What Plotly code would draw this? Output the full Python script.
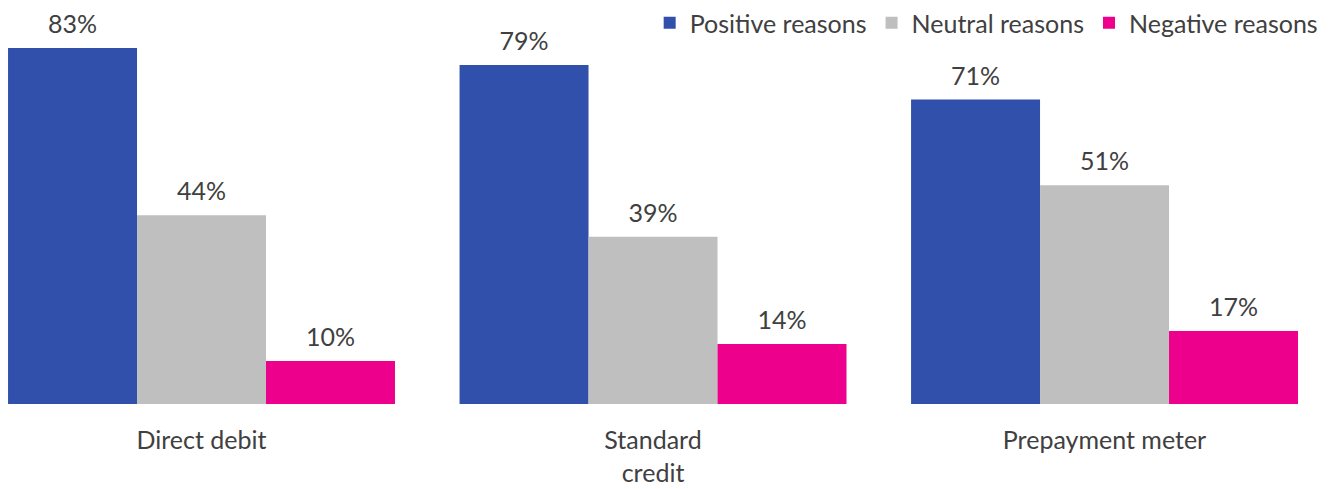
import plotly.graph_objects as go

categories = ["Direct debit", "Standard<br>credit", "Prepayment meter"]
series_names = ["Positive reasons", "Neutral reasons", "Negative reasons"]
positive = [83, 79, 71]
neutral = [44, 39, 51]
negative = [10, 14, 17]
colors = ["#3150AB", "#BFBFBF", "#EC008C"]

fig = go.Figure()
for i, (name, vals, col) in enumerate(zip(series_names, [positive, neutral, negative], colors)):
    fig.add_trace(go.Bar(
        name=name, x=categories, y=vals, marker_color=col, marker_line_width=0,
        offsetgroup=str(i),
    ))
for i, vals in enumerate([positive, neutral, negative]):
    fig.add_trace(go.Scatter(
        x=categories, y=vals, mode="markers+text", text=[f"{v}%" for v in vals],
        marker=dict(size=12, color="rgba(0,0,0,0)"),
        textposition="top center", offsetgroup=str(i), showlegend=False,
        textfont=dict(size=25, color="#404040"), cliponaxis=False, hoverinfo="skip",
    ))

fig.update_layout(
    width=1333, height=489,
    margin=dict(l=0, r=0, t=0, b=85),
    paper_bgcolor="white", plot_bgcolor="white",
    barmode="group", bargap=0.143, bargroupgap=0,
    scattermode="group", scattergap=0.143,
    font=dict(family="Lato", size=25, color="#404040"),
    showlegend=True,
    legend=dict(orientation="h", x=0.993, xanchor="right", y=0.948, yanchor="middle",
                font=dict(size=25, color="#404040"), traceorder="normal",
                bgcolor="rgba(0,0,0,0)"),
    xaxis=dict(range=[-0.4463, 2.506], showline=False, showgrid=False,
               ticks="outside", ticklen=14, tickcolor="white"),
    yaxis=dict(range=[0, 93.7], visible=False, showgrid=False, zeroline=False),
)
fig.write_html("out.html")
